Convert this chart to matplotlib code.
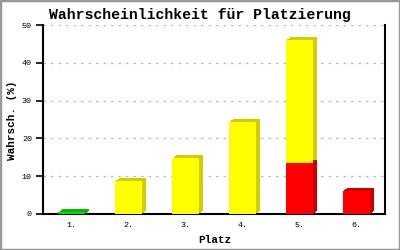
import matplotlib
matplotlib.use("Agg")
import matplotlib.pyplot as plt
from matplotlib.transforms import ScaledTranslation
from matplotlib.patches import Rectangle

categories = ["1.", "2.", "3.", "4.", "5.", "6."]
red_vals = [0, 0, 0, 0, 13.5, 6.1]
yellow_vals = [0, 8.7, 14.7, 24.4, 32.5, 0]
green_vals = [0.4, 0, 0, 0, 0, 0]
yticks = [0, 10, 20, 30, 40, 50]

DPI = 100
fig = plt.figure(figsize=(4, 2.5), dpi=DPI)
fig.patch.set_facecolor("white")
fig.patches.append(Rectangle((0, 0), 1, 1, transform=fig.transFigure,
                             fill=False, edgecolor="#999999", linewidth=2.5))
ax = fig.add_axes([43 / 400, 1 - 214 / 250, 342 / 400, 189 / 250])

x = list(range(len(categories)))
w = 0.49
mono = "Liberation Mono"

bottoms_y = [g + r for g, r in zip(green_vals, red_vals)]
# extruded shadows (3D depth)
for dx, dy in [(1, 0.75), (2, 1.5), (3, 2.25), (4, 3)]:
    off = ax.transData + ScaledTranslation(dx / DPI, dy / DPI, fig.dpi_scale_trans)
    ax.bar(x, green_vals, w, color="#00bb00", transform=off, zorder=2)
    ax.bar(x, red_vals, w, bottom=green_vals, color="#cc0000", transform=off, zorder=2)
    ax.bar(x, yellow_vals, w, bottom=bottoms_y, color="#d2cc00", transform=off, zorder=2)
# fronts
ax.bar(x, green_vals, w, color="#00dd00", zorder=3)
ax.bar(x, red_vals, w, bottom=green_vals, color="#ff0000", zorder=3)
ax.bar(x, yellow_vals, w, bottom=bottoms_y, color="#ffff00", zorder=3)

ax.set_xlim(-0.5, len(categories) - 0.5)
ax.set_ylim(0, 50)
ax.set_yticks(yticks)
ax.set_yticklabels([str(v) for v in yticks], fontfamily=mono, fontsize=6)
ax.set_xticks(x)
ax.set_xticklabels(categories, fontfamily=mono, fontsize=6)
ax.tick_params(axis="x", length=0, pad=6)
ax.tick_params(axis="y", length=5, width=1.2, direction="out", pad=3)
for t in yticks[1:]:
    ax.axhline(t, color="#bbbbbb", linestyle=(0, (2, 4)), linewidth=0.9, zorder=1)
ax.spines["top"].set_visible(False)
for s in ["left", "bottom", "right"]:
    ax.spines[s].set_linewidth(1.5)
    ax.spines[s].set_color("black")

fig.text(0.5, 1 - 15 / 250, "Wahrscheinlichkeit für Platzierung", ha="center", va="center",
         fontfamily=mono, fontweight="bold", fontsize=10.7)
fig.text(12.5 / 400, 1 - 120 / 250, "Wahrsch. (%)", rotation=90, ha="center", va="center",
         fontfamily=mono, fontweight="bold", fontsize=7.9)
fig.text(215 / 400, 1 - 240 / 250, "Platz", ha="center", va="center",
         fontfamily=mono, fontweight="bold", fontsize=8)

fig.savefig("out.png", dpi=DPI)
